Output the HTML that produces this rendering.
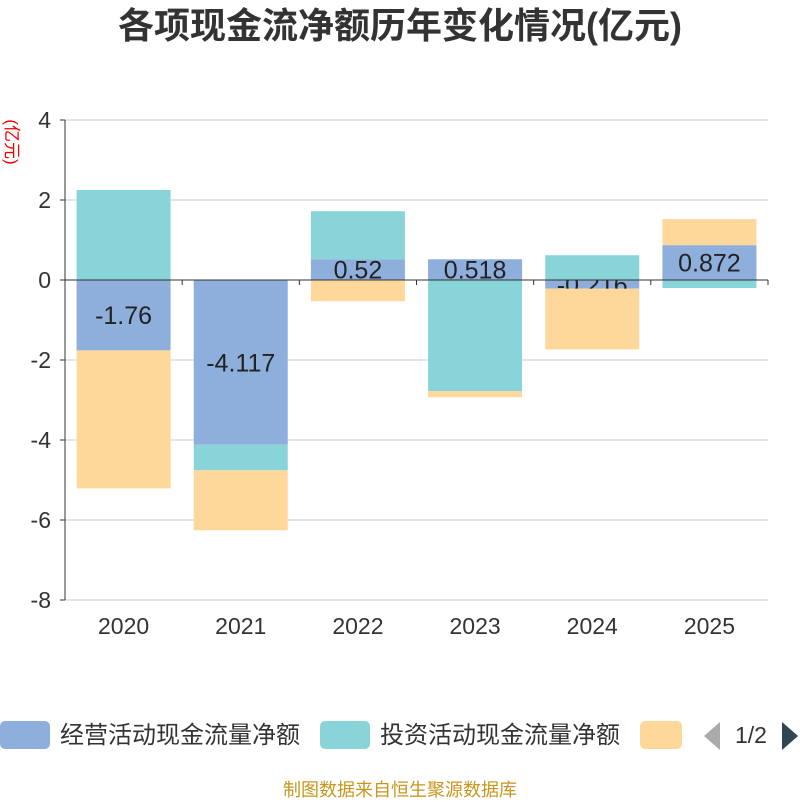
<!DOCTYPE html>
<html><head><meta charset="utf-8"><style>
body{margin:0;background:#fff;font-family:"Liberation Sans","Noto Sans CJK SC",sans-serif}
</style></head><body>
<svg id="c" width="800" height="800" xmlns="http://www.w3.org/2000/svg">
<text x="400" y="38" text-anchor="middle" font-size="36" font-weight="bold" fill="#333">各项现金流净额历年变化情况(亿元)</text>
<text transform="translate(6,142) rotate(90)" text-anchor="middle" font-size="17" fill="#e00">(亿元)</text>
<g id="grid"></g><g id="bars"></g><g id="axes"></g>
<g>
<rect x="0" y="721" width="50" height="28" rx="5" fill="#8eaedb"/>
<text x="60" y="743" font-size="24" fill="#333">经营活动现金流量净额</text>
<rect x="320" y="721" width="50" height="28" rx="5" fill="#88d4d8"/>
<text x="380" y="743" font-size="24" fill="#333">投资活动现金流量净额</text>
<rect x="640" y="721" width="42" height="28" rx="5" fill="#fdd89a"/>
<polygon points="720,722 720,750 704,736" fill="#aaa"/>
<text x="751" y="743" font-size="23" fill="#333" text-anchor="middle">1/2</text>
<polygon points="782,722 782,750 798,736" fill="#2f4554"/>
</g>
<text x="400" y="796" text-anchor="middle" font-size="18" fill="#c8961e">制图数据来自恒生聚源数据库</text>
</svg>
<script>
const categories=["2020","2021","2022","2023","2024","2025"];
const operating=[-1.76,-4.117,0.52,0.518,-0.216,0.872];
const investing=[2.25,-0.64,1.2,-2.78,0.62,-0.2];
const financing=[-3.45,-1.5,-0.53,-0.15,-1.52,0.65];
const yTicks=[4,2,0,-2,-4,-6,-8];
const NS="http://www.w3.org/2000/svg";
const L=65,R=768,T=120,B=600,ymax=4,ymin=-8;
const y=v=>T+(ymax-v)/(ymax-ymin)*(B-T);
const cw=(R-L)/categories.length;
const xc=i=>L+cw*(i+0.5);
function mk(p,tag,a){const e=document.createElementNS(NS,tag);for(const k in a)e.setAttribute(k,a[k]);p.appendChild(e);return e;}
const grid=document.getElementById('grid'),bars=document.getElementById('bars'),axes=document.getElementById('axes');
yTicks.forEach(t=>{
 const g=mk(grid,'line',{x1:L,x2:R,y1:y(t),y2:y(t),stroke:'#ccc','stroke-width':1});
 
 
 const tk=mk(axes,'line',{x1:L-5,x2:L,y1:y(t),y2:y(t),stroke:'#333'});
 
 
 const tx=mk(axes,'text',{x:L-14,y:y(t)+8,'text-anchor':'end','font-size':23,fill:'#333'});
 tx.textContent=t;
 
 
});
const pos=categories.map(()=>0),neg=categories.map(()=>0);
const bw=94;
function series(vals,color,name,label){
 vals.forEach((v,i)=>{
  let a,b;
  if(v>=0){a=pos[i];b=a+v;pos[i]=b;}else{a=neg[i];b=a+v;neg[i]=b;}
  const r=mk(bars,'rect',{x:xc(i)-bw/2,y:Math.min(y(a),y(b)),width:bw,height:Math.abs(y(a)-y(b)),fill:color});
  
  
  if(label){
   const t=mk(bars,'text',{x:xc(i),y:(y(a)+y(b))/2+9,'text-anchor':'middle','font-size':25,fill:'#222'});
   t.textContent=v;
   
   
  }
 });
}
series(operating,'#8eaedb','operating',true);
series(investing,'#88d4d8','investing',false);
series(financing,'#fdd89a','financing',false);
const ya=mk(axes,'line',{x1:L,x2:L,y1:T,y2:B,stroke:'#333'});


const xa=mk(axes,'line',{x1:L,x2:R,y1:y(0),y2:y(0),stroke:'#333'});


for(let i=0;i<=categories.length;i++){
 const t=mk(axes,'line',{x1:L+cw*i,x2:L+cw*i,y1:y(0),y2:y(0)+5,stroke:'#333'});
 
 
}
categories.forEach((c,i)=>{
 const t=mk(axes,'text',{x:xc(i),y:634,'text-anchor':'middle','font-size':23,fill:'#333'});
 t.textContent=c;
 
 
});
</script>
</body></html>
